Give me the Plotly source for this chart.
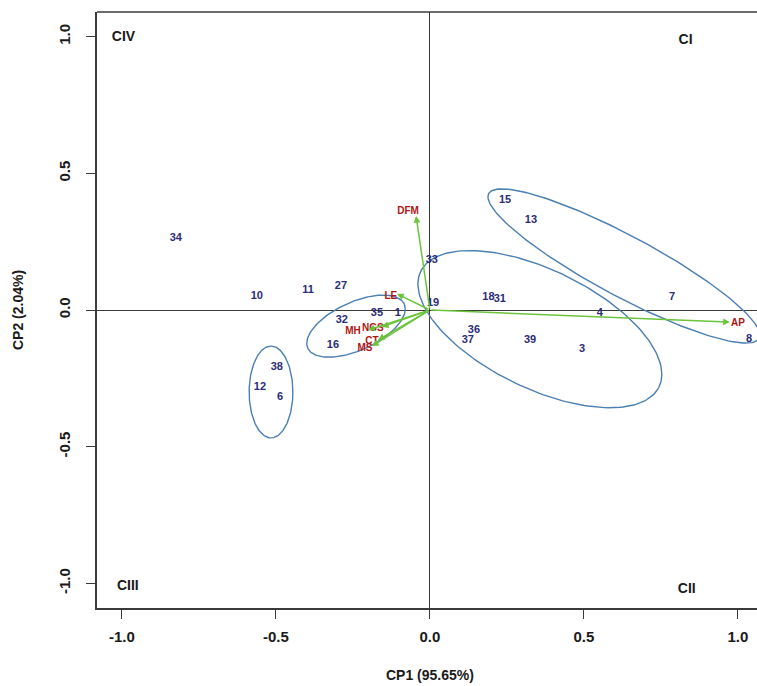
import numpy as np
import plotly.graph_objects as go

# Individuals (genotype numbers) on CP1 / CP2
ind_labels = ["34", "10", "11", "27", "32", "35", "1", "16", "38", "12", "6",
              "15", "13", "33", "19", "18", "31", "4", "7", "8", "36", "37", "39", "3"]
ind_x = [-0.825, -0.562, -0.396, -0.289, -0.286, -0.172, -0.104, -0.315, -0.497, -0.552, -0.487,
         0.244, 0.328, 0.006, 0.010, 0.190, 0.227, 0.552, 0.786, 1.036, 0.143, 0.123, 0.325, 0.494]
ind_y = [0.264, 0.051, 0.073, 0.088, -0.037, -0.011, -0.011, -0.128, -0.209, -0.282, -0.319,
         0.403, 0.330, 0.183, 0.024, 0.048, 0.040, -0.011, 0.048, -0.106, -0.073, -0.110, -0.110, -0.143]

# Variables (arrow tips and label positions)
var_labels = ["DFM", "LE", "AP", "MH", "NGS", "CT", "MS"]
var_tip_x = [-0.045, -0.107, 0.974, -0.201, -0.156, -0.169, -0.188]
var_tip_y = [0.344, 0.059, -0.044, -0.073, -0.062, -0.110, -0.132]
var_lab_x = [-0.071, -0.127, 1.000, -0.250, -0.185, -0.188, -0.211]
var_lab_y = [0.359, 0.048, -0.051, -0.077, -0.066, -0.117, -0.139]

# Group ellipses: centre, half-extent in x, half-extent in y, correlation
ell_cx = [-0.516, -0.240, 0.357, 0.630]
ell_cy = [-0.300, -0.059, -0.070, 0.161]
ell_sx = [0.071, 0.160, 0.396, 0.4416]
ell_sy = [0.168, 0.1136, 0.2875, 0.282]
ell_rho = [0.0, 0.553, -0.574, -0.897]

# Quadrant labels
quad_labels = ["CIV", "CI", "CIII", "CII"]
quad_x = [-0.995, 0.83, -0.981, 0.834]
quad_y = [0.995, 0.985, -1.013, -1.024]

tick_vals = [-1.0, -0.5, 0.0, 0.5, 1.0]
tick_text = ["-1.0", "-0.5", "0.0", "0.5", "1.0"]

FONT = "Liberation Sans, Arial, sans-serif"
INK = "#1a1a1a"

fig = go.Figure()

t = np.linspace(0, 2 * np.pi, 200)
for cx, cy, sx, sy, r in zip(ell_cx, ell_cy, ell_sx, ell_sy, ell_rho):
    ex = cx + sx * np.cos(t)
    ey = cy + sy * (r * np.cos(t) + np.sqrt(1 - r * r) * np.sin(t))
    fig.add_trace(go.Scatter(x=ex, y=ey, mode="lines",
                             line=dict(color="#4a7fb2", width=1.4),
                             hoverinfo="skip", showlegend=False))

fig.add_trace(go.Scatter(x=ind_x, y=ind_y, mode="text", text=ind_labels,
                         textfont=dict(family=FONT, size=11, color="#2b2b78", weight="bold"),
                         showlegend=False, cliponaxis=False))

for tx, ty in zip(var_tip_x, var_tip_y):
    fig.add_annotation(x=tx, y=ty, ax=0, ay=0, xref="x", yref="y", axref="x", ayref="y",
                       text="", showarrow=True, arrowhead=2, arrowsize=0.9,
                       arrowwidth=1.5, arrowcolor="#6cc43c")

fig.add_trace(go.Scatter(x=var_lab_x, y=var_lab_y, mode="text", text=var_labels,
                         textfont=dict(family=FONT, size=10, color="#b01515", weight="bold"),
                         showlegend=False, cliponaxis=False))

fig.add_trace(go.Scatter(x=quad_x, y=quad_y, mode="text", text=quad_labels,
                         textfont=dict(family=FONT, size=14, color=INK, weight="bold"),
                         showlegend=False))

axis_common = dict(
    showgrid=False, zeroline=True, zerolinecolor="#3a3a3a", zerolinewidth=1.3,
    showline=True, linecolor="#3a3a3a", linewidth=1.5, mirror=False,
    ticks="outside", ticklen=9, tickwidth=1.3, tickcolor="#3a3a3a",
    tickvals=tick_vals, ticktext=tick_text,
    tickfont=dict(family=FONT, size=15, color=INK, weight="bold"),
    automargin=False,
)

fig.update_layout(
    width=757, height=686,
    margin=dict(l=97, r=0, t=12, b=78),
    plot_bgcolor="white", paper_bgcolor="white",
    xaxis=dict(range=[-1.081, 1.062], ticklabelstandoff=5, **axis_common),
    yaxis=dict(range=[-1.09, 1.09], tickangle=-90, ticklabelstandoff=10, **axis_common),
    font=dict(family=FONT),
)

# axis titles
fig.add_annotation(text="CP1 (95.65%)", xref="x", x=0, yref="paper", y=0,
                   yanchor="middle", yshift=-67, showarrow=False,
                   font=dict(family=FONT, size=14, color=INK, weight="bold"))
fig.add_annotation(text="CP2 (2.04%)", xref="paper", x=0, yref="y", y=0,
                   xanchor="center", xshift=-79, textangle=-90, showarrow=False,
                   font=dict(family=FONT, size=14, color=INK, weight="bold"))

# top frame line
fig.add_shape(type="line", xref="paper", yref="paper", x0=0, x1=1, y0=1, y1=1,
              line=dict(color="#3a3a3a", width=1.5))

fig.write_html(
    "out.html",
    config={"displayModeBar": False},
    post_script="document.body.style.margin='0';document.body.style.overflow='hidden';",
)
